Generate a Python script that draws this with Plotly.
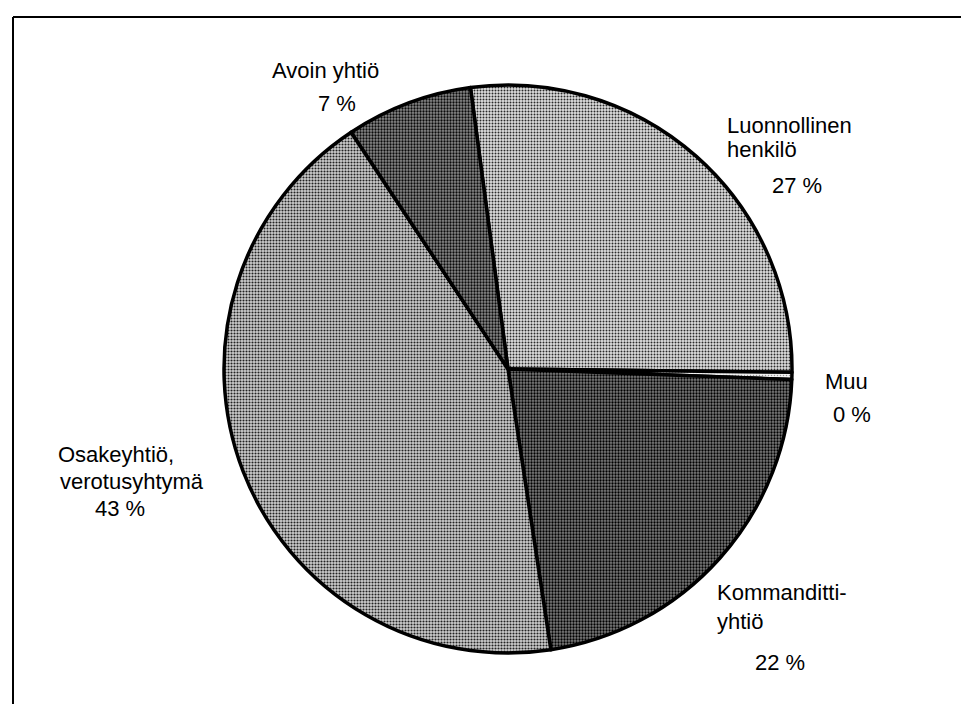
import plotly.graph_objects as go

# ---- data ----
labels = ["Luonnollinen henkilö", "Muu", "Kommanditti-yhtiö", "Osakeyhtiö, verotusyhtymä", "Avoin yhtiö"]
label_lines = [["Luonnollinen", "henkilö"], ["Muu"], ["Kommanditti-", "yhtiö"],
               ["Osakeyhtiö,", "verotusyhtymä"], ["Avoin yhtiö"]]
values = [27.3, 0.4, 22.0, 43.1, 7.2]
shown_pct = [27, 0, 22, 43, 7]

# ---- styles / layout ----
W, H = 969, 704
bg_colors = ["#e0e0e0", "#f2f2f2", "#7c7c7c", "#cfcfcf", "#8a8a8a"]
fg_colors = ["#2a2a2a", "#999999", "#000000", "#222222", "#0a0a0a"]
solidity = [0.35, 0.2, 0.45, 0.4, 0.45]

# label placement (pixel positions): list of line positions, then percent position
line_pos = [[(717, 117), (717, 141)], [(815, 373)], [(707, 584), (707, 613)],
            [(48, 446), (50, 473)], [(262, 62)]]
pct_pos = [(762, 177), (823, 406), (745, 654), (85, 500), (308, 95)]

cx, cy, r = 500, 361, 284

fig = go.Figure(go.Pie(
    labels=labels, values=values, sort=False, direction="clockwise",
    rotation=-7.6, textinfo="none", hoverinfo="label+percent",
    marker=dict(colors=bg_colors,
                line=dict(color="black", width=3.5),
                pattern=dict(shape=".", fgcolor=fg_colors, bgcolor=bg_colors,
                             size=3, solidity=solidity)),
    domain=dict(x=[(cx - r) / W, (cx + r) / W], y=[1 - (cy + r) / H, 1 - (cy - r) / H]),
    showlegend=False,
))

font = dict(family="Liberation Sans, Arial, sans-serif", size=22, color="#000000")
ann = []
for lines, poss, pct, pp in zip(label_lines, line_pos, shown_pct, pct_pos):
    for t, (x, y) in zip(lines, poss):
        ann.append(dict(text=t, x=x / W, y=1 - y / H, xref="paper", yref="paper",
                        xanchor="left", yanchor="middle", showarrow=False, font=font))
    ann.append(dict(text=f"{pct} %", x=pp[0] / W, y=1 - pp[1] / H, xref="paper", yref="paper",
                    xanchor="left", yanchor="middle", showarrow=False, font=font))

shapes = [
    dict(type="line", xref="paper", yref="paper", x0=5 / W, x1=1, y0=1 - 9 / H, y1=1 - 9 / H,
         line=dict(color="black", width=2)),
    dict(type="line", xref="paper", yref="paper", x0=5 / W, x1=5 / W, y0=0, y1=1 - 9 / H,
         line=dict(color="black", width=2)),
]

fig.update_layout(width=W, height=H, margin=dict(l=0, r=0, t=0, b=0),
                  paper_bgcolor="white", plot_bgcolor="white",
                  annotations=ann, shapes=shapes)
fig.write_html("out.html")
